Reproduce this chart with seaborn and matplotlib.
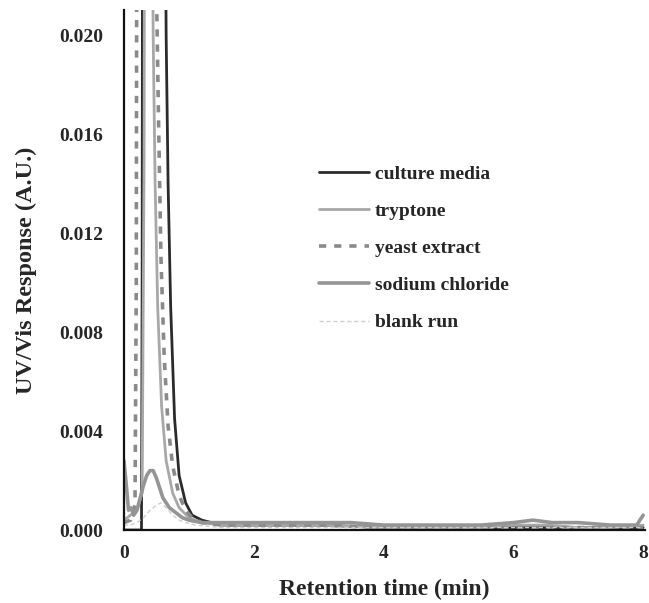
import matplotlib
matplotlib.use("Agg")
import matplotlib.pyplot as plt
import seaborn as sns
import pandas as pd

# ---- data ----
culture_t = [0.0, 0.1, 0.2, 0.27, 0.28, 0.30, 0.45, 0.60, 0.65, 0.68, 0.72, 0.78, 0.85, 0.95, 1.05, 1.2, 1.5, 2.0, 3.0, 4.0, 5.0, 6.0, 6.5, 7.0, 8.0]
culture_y = [0.0000, 0.0000, 0.0000, 0.0000, 0.0100, 0.0600, 0.0800, 0.0400, 0.0200, 0.0140, 0.0090, 0.0045, 0.0022, 0.0011, 0.0006, 0.0004, 0.0002, 0.0002, 0.0002, 0.0001, 0.0001, 0.0001, 0.0001, 0.0001, 0.0001]

tryp_t = [0.0, 0.1, 0.2, 0.28, 0.31, 0.33, 0.40, 0.45, 0.48, 0.52, 0.58, 0.65, 0.75, 0.85, 1.0, 1.2, 1.5, 2.0, 3.0, 4.0, 5.0, 5.5, 6.0, 6.5, 7.0, 7.5, 8.0]
tryp_y = [0.0004, 0.0006, 0.0008, 0.0015, 0.0150, 0.0500, 0.0400, 0.0200, 0.0140, 0.0090, 0.0050, 0.0028, 0.0015, 0.0009, 0.0005, 0.0003, 0.0002, 0.0002, 0.0002, 0.0001, 0.0001, 0.0001, 0.0002, 0.0002, 0.0001, 0.0001, 0.0002]

yeast_t = [0.0, 0.1, 0.17, 0.19, 0.21, 0.35, 0.50, 0.53, 0.57, 0.62, 0.68, 0.75, 0.85, 0.95, 1.05, 1.2, 1.5, 2.0, 3.0, 4.0, 5.0, 6.0, 7.0, 8.0]
yeast_y = [0.0003, 0.0004, 0.0010, 0.0100, 0.0500, 0.0600, 0.0220, 0.0170, 0.0110, 0.0070, 0.0042, 0.0026, 0.0014, 0.0008, 0.0005, 0.0003, 0.0002, 0.0002, 0.0002, 0.0001, 0.0001, 0.0001, 0.0001, 0.0001]

nacl_t = [0.0, 0.03, 0.07, 0.11, 0.15, 0.20, 0.25, 0.30, 0.35, 0.40, 0.45, 0.50, 0.55, 0.60, 0.70, 0.80, 0.90, 1.0, 1.2, 1.5, 2.0, 2.5, 3.0, 3.5, 4.0, 4.5, 5.0, 5.5, 6.0, 6.3, 6.6, 7.0, 7.5, 7.9, 8.0]
nacl_y = [0.0028, 0.0020, 0.0008, 0.0009, 0.0006, 0.0008, 0.0013, 0.0018, 0.0022, 0.0024, 0.0024, 0.0021, 0.0017, 0.0013, 0.0009, 0.0007, 0.0005, 0.0004, 0.0003, 0.0003, 0.0003, 0.0003, 0.0003, 0.0003, 0.0002, 0.0002, 0.0002, 0.0002, 0.0003, 0.0004, 0.0003, 0.0003, 0.0002, 0.0002, 0.0006]

blank_t = [0.0, 0.1, 0.2, 0.3, 0.4, 0.5, 0.57, 0.65, 0.75, 0.85, 0.95, 1.1, 1.5, 2.0, 3.0, 4.0, 5.0, 6.0, 7.0, 8.0]
blank_y = [0.0002, 0.0002, 0.0003, 0.0005, 0.0008, 0.0010, 0.0011, 0.0009, 0.0006, 0.0004, 0.0003, 0.0002, 0.0001, 0.0001, 0.0001, 0.0001, 0.0001, 0.0001, 0.0001, 0.0001]

labels = ["culture media", "tryptone", "yeast extract", "sodium chloride", "blank run"]
x_ticks = [0, 2, 4, 6, 8]
y_ticks = [0.000, 0.004, 0.008, 0.012, 0.016, 0.020]

series = [
    (culture_t, culture_y, "#2b2b2b", "-", 2.0),
    (tryp_t, tryp_y, "#a8a8a8", "-", 2.0),
    (yeast_t, yeast_y, "#8a8a8a", (0, (2.0, 2.2)), 2.6),
    (nacl_t, nacl_y, "#959595", "-", 2.6),
    (blank_t, blank_y, "#cfcfcf", (0, (3, 2)), 1.0),
]

sns.set_style("white")
plt.rcParams["font.family"] = ["Liberation Serif", "DejaVu Serif"]
plt.rcParams["font.weight"] = "bold"

fig = plt.figure(figsize=(6.49, 6.03), dpi=100)
ax = fig.add_axes([0.191, 0.121, 0.803, 0.862])

for (t, y, c, ls, lw), lab in zip(series, labels):
    df = pd.DataFrame({"t": t, "y": y})
    sns.lineplot(data=df, x="t", y="y", ax=ax, color=c, linestyle=ls,
                 linewidth=lw, label=lab, estimator=None, sort=False)

ax.set_xlim(0, 8.03)
ax.set_ylim(0, 0.0210)
ax.set_xticks(x_ticks)
ax.set_xticklabels([str(v) for v in x_ticks], fontsize=14, fontweight="bold")
ax.set_yticks(y_ticks)
ax.set_yticklabels([f"{v:.3f}" for v in y_ticks], fontsize=14, fontweight="bold")
ax.tick_params(direction="in", length=4, width=0.8, color="#888888")
ax.tick_params(axis="y", pad=15)
ax.tick_params(axis="x", pad=11)

for s in ["top", "right"]:
    ax.spines[s].set_visible(False)
for s in ["left", "bottom"]:
    ax.spines[s].set_color("#111111")
    ax.spines[s].set_linewidth(1.6)

ax.set_xlabel("Retention time (min)", fontsize=17, fontweight="bold", labelpad=12)
ax.set_ylabel("UV/Vis Response (A.U.)", fontsize=17.5, fontweight="bold", labelpad=16)

leg = ax.legend(loc="upper left", bbox_to_anchor=(0.34, 0.735), frameon=False,
                handlelength=2.6, handletextpad=0.3, labelspacing=1.0,
                prop={"family": "Liberation Serif", "weight": "bold", "size": 14})

fig.savefig("out.png", dpi=100)
